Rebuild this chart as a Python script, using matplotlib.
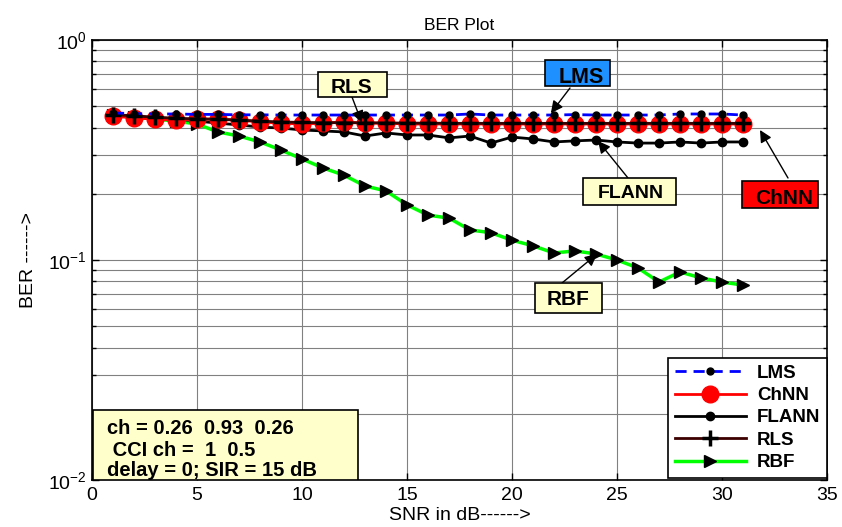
import numpy as np
import matplotlib
matplotlib.use("Agg")
import matplotlib.pyplot as plt
from matplotlib.patches import Rectangle
from matplotlib.ticker import FixedLocator, FixedFormatter, NullFormatter

plt.rcParams['font.family'] = ['Liberation Sans', 'DejaVu Sans']
plt.rcParams['mathtext.fontset'] = 'custom'
plt.rcParams['mathtext.rm'] = 'Liberation Sans'
plt.rcParams['mathtext.default'] = 'regular'

# ---- data -------------------------------------------------------------
snr = list(range(1, 32))

ber_lms = [0.466, 0.463, 0.461, 0.461, 0.459, 0.459, 0.457, 0.457, 0.456, 0.456,
           0.456, 0.456, 0.456, 0.456, 0.456, 0.456, 0.456, 0.461, 0.456, 0.456,
           0.456, 0.456, 0.458, 0.456, 0.456, 0.456, 0.456, 0.461, 0.461, 0.461, 0.456]

ber_chnn = [0.451, 0.442, 0.437, 0.433, 0.437, 0.437, 0.433, 0.424, 0.419, 0.415,
            0.419, 0.424, 0.419, 0.419, 0.415, 0.415, 0.415, 0.415, 0.415, 0.415,
            0.415, 0.415, 0.415, 0.415, 0.415, 0.415, 0.415, 0.415, 0.415, 0.415, 0.415]

ber_flann = [0.456, 0.451, 0.442, 0.437, 0.428, 0.419, 0.411, 0.402, 0.398, 0.390,
             0.386, 0.382, 0.366, 0.378, 0.370, 0.370, 0.359, 0.366, 0.340, 0.362,
             0.355, 0.344, 0.348, 0.351, 0.344, 0.340, 0.340, 0.344, 0.340, 0.344, 0.344]

ber_rls = [0.458, 0.452, 0.446, 0.441, 0.438, 0.436, 0.432, 0.428, 0.424, 0.422,
           0.421, 0.421, 0.420, 0.420, 0.419, 0.419, 0.418, 0.418, 0.418, 0.418,
           0.418, 0.418, 0.418, 0.418, 0.418, 0.418, 0.418, 0.418, 0.418, 0.418, 0.418]

ber_rbf = [0.456, 0.447, 0.437, 0.428, 0.415, 0.382, 0.366, 0.344, 0.316, 0.288,
           0.262, 0.243, 0.217, 0.206, 0.178, 0.160, 0.155, 0.137, 0.133, 0.123,
           0.116, 0.1076, 0.110, 0.1065, 0.100, 0.092, 0.0794, 0.0882, 0.0829, 0.0794, 0.0769]

x_ticks = [0, 5, 10, 15, 20, 25, 30, 35]
y_ticks = [1e-2, 1e-1, 1e0]
y_tick_labels = ['$10^{-2}$', '$10^{-1}$', '$10^{0}$']

# ---- figure -------------------------------------------------------------
W, H = 842, 527
fig = plt.figure(figsize=(W / 100, H / 100), dpi=100)
L, R, T, B = 92, 827, 40, 480
ax = fig.add_axes([L / W, 1 - B / H, (R - L) / W, (B - T) / H])

ax.plot(snr, ber_rbf, color='#00FF00', lw=2.5, marker='>', ms=9,
        mfc='black', mec='black', label='RBF', zorder=3)
ax.plot(snr, ber_flann, color='black', lw=2, marker='o', ms=6,
        mfc='black', mec='black', label='FLANN', zorder=4)
ax.plot(snr, ber_chnn, color='red', lw=2, marker='o', ms=12,
        mfc='red', mec='red', label='ChNN', zorder=5)
ax.plot(snr, ber_rls, color='#3C0000', lw=2, marker='+', ms=11, mew=2.5,
        mec='black', label='RLS', zorder=6)
ax.plot(snr, ber_lms, color='blue', lw=2, ls=(0, (4, 2.5)), marker='o', ms=5,
        mfc='black', mec='black', label='LMS', zorder=7)

ax.set_yscale('log')
ax.set_xlim(0, 35)
ax.set_ylim(1e-2, 1e0)
ax.xaxis.set_major_locator(FixedLocator(x_ticks))
ax.yaxis.set_major_locator(FixedLocator(y_ticks))
ax.yaxis.set_major_formatter(FixedFormatter(y_tick_labels))
minor = [m * d for d in (1e-2, 1e-1) for m in range(2, 10)]
ax.yaxis.set_minor_locator(FixedLocator(minor))
ax.yaxis.set_minor_formatter(NullFormatter())

ax.grid(True, which='major', color='#808080', lw=0.8)
ax.grid(True, which='minor', axis='y', color='#808080', lw=0.8)
ax.set_axisbelow(True)
ax.tick_params(which='both', direction='in', top=True, right=True,
               labelsize=14, width=1)
ax.tick_params(axis='x', pad=5)
ax.tick_params(which='major', length=5)
ax.tick_params(which='minor', length=3)
for s in ax.spines.values():
    s.set_linewidth(1.2)

ax.set_title('BER Plot', fontsize=12.5, pad=7)
ax.set_xlabel('SNR in dB------>', fontsize=14, labelpad=2)
ax.set_ylabel('BER ------>', fontsize=14, labelpad=8)

# legend, drawn in the order the methods are compared
h, lab = ax.get_legend_handles_labels()
order = ['LMS', 'ChNN', 'FLANN', 'RLS', 'RBF']
hd = dict(zip(lab, h))
leg = ax.legend([hd[k] for k in order], order, loc='lower right',
                bbox_to_anchor=(1.0, 0.005), prop={'weight': 'bold', 'size': 13.5},
                fancybox=False, edgecolor='black', framealpha=1,
                handlelength=3.8, labelspacing=0.28, borderpad=0.35,
                handletextpad=0.6, borderaxespad=0)
leg.get_frame().set_linewidth(1.2)
leg.set_zorder(20)


def px2ax(px, py):
    return (px - L) / (R - L), (B - py) / (B - T)


def px2data(px, py):
    return (px - L) / (R - L) * 35, 10 ** (-(py - T) / (B - T) * 2)


def label_box(x0, y0, x1, y1, text, face, size, tx, ty):
    ax0, ay0 = px2ax(x0, y1)
    ax1, ay1 = px2ax(x1, y0)
    ax.add_patch(Rectangle((ax0, ay0), ax1 - ax0, ay1 - ay0, transform=ax.transAxes,
                           facecolor=face, edgecolor='black', lw=1.2, zorder=15,
                           clip_on=False))
    cx, cy = px2ax(tx, ty)
    ax.text(cx, cy, text, transform=ax.transAxes, ha='center', va='center',
            fontsize=size, fontweight='bold', zorder=16)


def arrow(tail_px, tip_xy):
    ax.annotate('', xy=tip_xy, xycoords='data', xytext=px2data(*tail_px),
                textcoords='data',
                arrowprops=dict(arrowstyle='-|>', color='black', lw=1,
                                mutation_scale=18, shrinkA=0, shrinkB=0),
                zorder=14)


# callouts pointing at the curves
arrow((352, 97), (snr[12] - 0.15, ber_rls[12]))
label_box(318, 72, 387, 97, 'RLS', '#FFFFCC', 15, 352, 88)

arrow((570, 88), (snr[21] - 0.15, ber_lms[21] * 1.02))
label_box(545, 60, 610, 86, 'LMS', '#1E90FF', 15.5, 581, 78)

arrow((628, 178), (snr[23] + 0.1, ber_flann[23] * 0.99))
label_box(583, 178, 676, 205, 'FLANN', '#FFFFCC', 14, 631, 193)

arrow((788, 178), px2data(760, 130))
label_box(742, 181, 818, 208, 'ChNN', '#FF0000', 15, 784, 198)

arrow((562, 283), (snr[23] + 0.05, ber_rbf[23]))
label_box(535, 283, 602, 313, 'RBF', '#FFFFCC', 15, 568, 300)

# simulation parameters
bx0, by0 = px2ax(93, 480)
bx1, by1 = px2ax(358, 410)
ax.add_patch(Rectangle((bx0, by0), bx1 - bx0, by1 - by0, transform=ax.transAxes,
                       facecolor='#FFFFCC', edgecolor='black', lw=1.2, zorder=15))
for py, line in zip([429, 450, 470],
                    ['ch = 0.26  0.93  0.26', ' CCI ch =  1  0.5',
                     'delay = 0; SIR = 15 dB']):
    tx, ty = px2ax(107, py)
    ax.text(tx, ty, line, transform=ax.transAxes, ha='left', va='center',
            fontsize=14.5, fontweight='bold', zorder=16)

fig.savefig('out.png', dpi=100)
